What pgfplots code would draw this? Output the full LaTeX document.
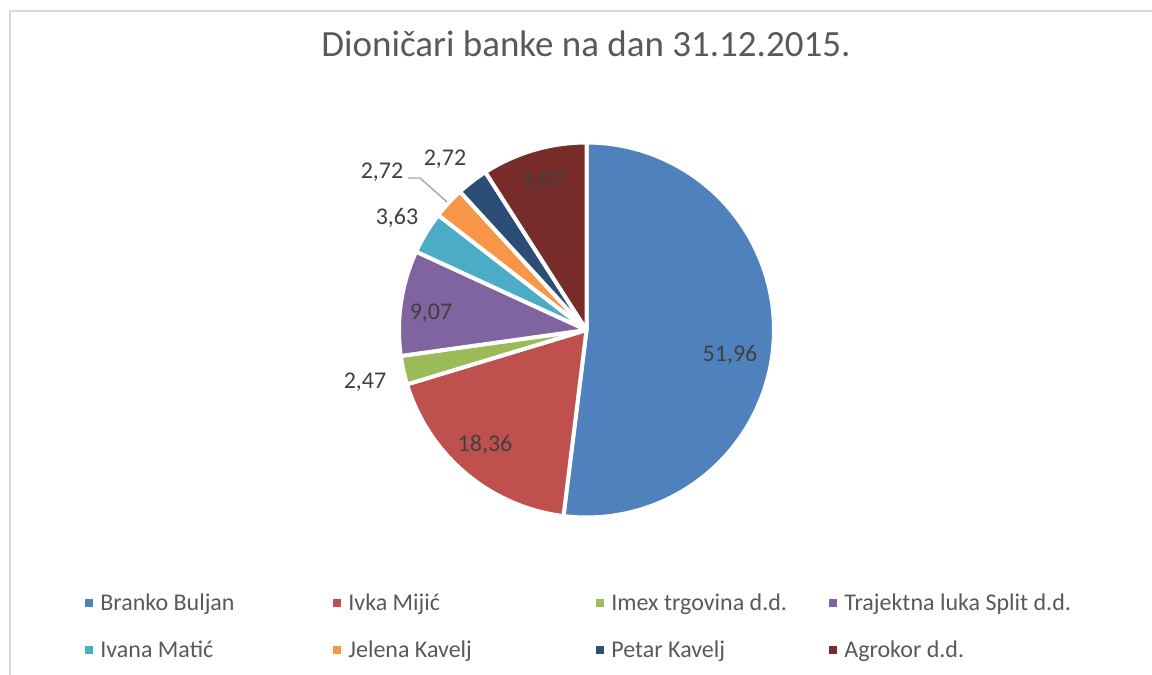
\documentclass[border=0pt]{standalone}
\usepackage{pgfplots}
\pgfplotsset{compat=1.18}
\usepackage{fontspec}
\setmainfont{Carlito}
\definecolor{c1}{HTML}{4F81BD}
\definecolor{c2}{HTML}{C0504D}
\definecolor{c3}{HTML}{9BBB59}
\definecolor{c4}{HTML}{8064A2}
\definecolor{c5}{HTML}{4BACC6}
\definecolor{c6}{HTML}{F79646}
\definecolor{c7}{HTML}{2C4D75}
\definecolor{c8}{HTML}{772C2A}
\definecolor{titletext}{HTML}{595959}
\definecolor{labtext}{HTML}{404040}
\definecolor{frame}{HTML}{D9D9D9}
\definecolor{leader}{HTML}{A6A6A6}
\def\cx{586.5}
\def\cy{345}
\def\rr{187.5}
% #1 = cumulative share before the slice, #2 = share, #3 = colour
\newcommand\slice[3]{%
  \addplot[fill=#3, draw=white, line width=2pt, line join=round,
    domain={90-3.6*(#1+#2)}:{90-3.6*(#1)}, samples=90, variable=\t]
    ({\cx+\rr*cos(\t)},{\cy+\rr*sin(\t)}) -- (axis cs:\cx,\cy) -- cycle;
}
\begin{document}
\begin{tikzpicture}
\begin{axis}[
  hide axis, scale only axis,
  width=576pt, height=337.5pt,
  xmin=0, xmax=1152, ymin=0, ymax=675,
  clip=false,
  title={Dioničari banke na dan 31.12.2015.},
  title style={at={(axis description cs:0.5087,0.8978)}, anchor=base,
    font=\fontsize{18.5}{22}\selectfont, text=titletext, inner sep=0pt},
  legend columns=4,
  legend image code/.code={%
    \fill[#1, draw=none] (0pt,-2pt) rectangle (4pt,2pt);
    \path[draw=none, fill=none] (-1pt,0pt) -- (7.5pt,0pt);},
  legend style={at={(axis cs:83,48.5)}, anchor=west, draw=none, fill=none,
    inner sep=0pt, column sep=0pt, row sep=13pt,
    font=\fontsize{12}{14}\selectfont, text=titletext,
    nodes={inner sep=0pt, text height=9pt, text depth=1.5pt, anchor=center}},
]
\slice{0}{51.96}{c1}
\addlegendentry{\makebox[115.5pt][l]{Branko Buljan}}
\slice{51.96}{18.36}{c2}
\addlegendentry{\makebox[123pt][l]{Ivka Mijić}}
\slice{70.32}{2.47}{c3}
\addlegendentry{\makebox[108pt][l]{Imex trgovina d.d.}}
\slice{72.79}{9.07}{c4}
\addlegendentry{\makebox[125pt][l]{Trajektna luka Split d.d.}}
\slice{81.86}{3.63}{c5}
\addlegendentry{\makebox[115.5pt][l]{Ivana Matić}}
\slice{85.49}{2.72}{c6}
\addlegendentry{\makebox[123pt][l]{Jelena Kavelj}}
\slice{88.21}{2.72}{c7}
\addlegendentry{\makebox[108pt][l]{Petar Kavelj}}
\slice{90.93}{9.07}{c8}
\addlegendentry{\makebox[125pt][l]{Agrokor d.d.}}

% frame
\draw[frame, line width=1pt] (axis cs:9.5,0) -- (axis cs:9.5,663.5) -- (axis cs:1152,663.5);
% leader line
\draw[leader, line width=0.7pt] (axis cs:408,497) -- (axis cs:420,497) -- (axis cs:447,473);
% data labels
\node[font=\fontsize{12}{14}\selectfont, text=labtext] at (axis cs:730,320) {51,96};
\node[font=\fontsize{12}{14}\selectfont, text=labtext] at (axis cs:485,230) {18,36};
\node[font=\fontsize{12}{14}\selectfont, text=labtext] at (axis cs:365,293) {2,47};
\node[font=\fontsize{12}{14}\selectfont, text=labtext] at (axis cs:431,362) {9,07};
\node[font=\fontsize{12}{14}\selectfont, text=labtext] at (axis cs:397,457) {3,63};
\node[font=\fontsize{12}{14}\selectfont, text=labtext] at (axis cs:382,503) {2,72};
\node[font=\fontsize{12}{14}\selectfont, text=labtext] at (axis cs:445,516) {2,72};
\node[font=\fontsize{12}{14}\selectfont, text=labtext] at (axis cs:543,494) {9,07};
\end{axis}
\pgfresetboundingbox
\path (current axis.south west) rectangle (current axis.north east);
\end{tikzpicture}
\end{document}
